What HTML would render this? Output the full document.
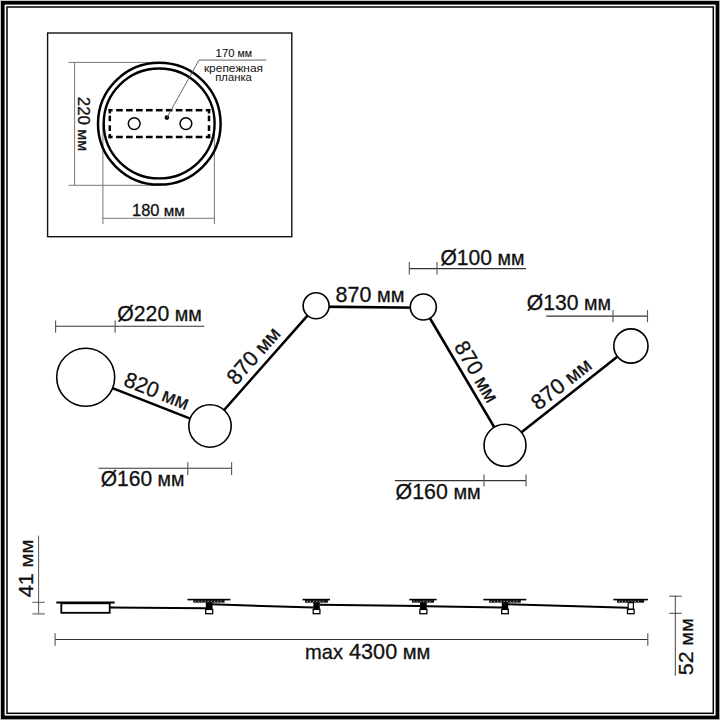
<!DOCTYPE html>
<html><head><meta charset="utf-8"><style>html,body{margin:0;padding:0;background:#fff}svg{display:block}</style></head>
<body><svg width="720" height="720" viewBox="0 0 720 720" font-family="Liberation Sans, sans-serif">
<rect width="720" height="720" fill="#fff"/>
<rect x="0.5" y="0.5" width="719" height="719" fill="none" stroke="#c8c8c8" stroke-width="1"/>
<rect x="2.8" y="2.8" width="714.6" height="714.6" fill="none" stroke="#000" stroke-width="3.6"/>
<rect x="7" y="7" width="706.3" height="706.3" fill="none" stroke="#000" stroke-width="1.5"/>
<rect x="47.6" y="33" width="244.2" height="203.7" fill="none" stroke="#111" stroke-width="1.4"/>
<path d="M68.7 62.4H160 M68.7 185.3H160 M74.6 62.4V185.3" stroke="#777" stroke-width="1" fill="none"/>
<path d="M102.9 123.5V224 M214.4 123.5V224 M102.9 218.3H214.4" stroke="#777" stroke-width="1" fill="none"/>
<ellipse cx="159.3" cy="123.7" rx="61.3" ry="60.9" fill="none" stroke="#000" stroke-width="2.5"/>
<ellipse cx="159.15" cy="123.45" rx="55.45" ry="54.95" fill="none" stroke="#000" stroke-width="2.4"/>
<g fill="#000"><rect x="108.55" y="108.95" width="4.05" height="2.5"/><rect x="108.55" y="135.75" width="4.05" height="2.5"/><rect x="116.10" y="108.95" width="6.70" height="2.5"/><rect x="116.10" y="135.75" width="6.70" height="2.5"/><rect x="126.05" y="108.95" width="6.70" height="2.5"/><rect x="126.05" y="135.75" width="6.70" height="2.5"/><rect x="136.00" y="108.95" width="6.70" height="2.5"/><rect x="136.00" y="135.75" width="6.70" height="2.5"/><rect x="145.95" y="108.95" width="6.70" height="2.5"/><rect x="145.95" y="135.75" width="6.70" height="2.5"/><rect x="155.90" y="108.95" width="6.70" height="2.5"/><rect x="155.90" y="135.75" width="6.70" height="2.5"/><rect x="165.85" y="108.95" width="6.70" height="2.5"/><rect x="165.85" y="135.75" width="6.70" height="2.5"/><rect x="175.80" y="108.95" width="6.70" height="2.5"/><rect x="175.80" y="135.75" width="6.70" height="2.5"/><rect x="185.75" y="108.95" width="6.70" height="2.5"/><rect x="185.75" y="135.75" width="6.70" height="2.5"/><rect x="195.70" y="108.95" width="6.70" height="2.5"/><rect x="195.70" y="135.75" width="6.70" height="2.5"/><rect x="205.80" y="108.95" width="4.45" height="2.5"/><rect x="205.80" y="135.75" width="4.45" height="2.5"/><rect x="108.55" y="108.95" width="2.5" height="4.55"/><rect x="207.75" y="108.95" width="2.5" height="4.55"/><rect x="108.55" y="115.60" width="2.5" height="5.60"/><rect x="207.75" y="115.60" width="2.5" height="5.60"/><rect x="108.55" y="125.30" width="2.5" height="5.60"/><rect x="207.75" y="125.30" width="2.5" height="5.60"/><rect x="108.55" y="134.00" width="2.5" height="4.25"/><rect x="207.75" y="134.00" width="2.5" height="4.25"/></g>
<circle cx="134.2" cy="123.6" r="5.9" fill="none" stroke="#000" stroke-width="1.5"/>
<circle cx="185.9" cy="123.6" r="5.9" fill="none" stroke="#000" stroke-width="1.5"/>
<circle cx="166.9" cy="117.6" r="2.3" fill="#000"/>
<path d="M166.9 117.6L199 60.1H266.3" stroke="#555" stroke-width="0.9" fill="none"/>
<text x="132" y="215.8" font-size="16.1" textLength="52.7" lengthAdjust="spacingAndGlyphs" stroke="#111" stroke-width="0.3" fill="#111" text-anchor="start">180<tspan font-size="14.97"> мм</tspan></text>
<text transform="translate(77.60 96.80) rotate(90.00)" x="0" y="0" font-size="15.6" textLength="54.2" lengthAdjust="spacingAndGlyphs" stroke="#111" stroke-width="0.3" fill="#111" text-anchor="start">220<tspan font-size="14.51"> мм</tspan></text>
<text x="215.6" y="56.9" font-size="11.5" textLength="36.3" lengthAdjust="spacingAndGlyphs" stroke="#111" stroke-width="0.1" fill="#111" text-anchor="start">170<tspan font-size="10.70"> мм</tspan></text>
<text x="203.9" y="72.4" font-size="11.8" textLength="59.2" lengthAdjust="spacingAndGlyphs" fill="#111" text-anchor="start">крепежная</text>
<text x="215.2" y="80.9" font-size="11.8" textLength="36.7" lengthAdjust="spacingAndGlyphs" fill="#111" text-anchor="start">планка</text>
<path d="M85.7 377.6L210 426.4M210 426L316.1 305.8M316.1 306.6L423.3 307.7M423.3 307L505 445.3M505 445.3L630.9 346" fill="none" stroke="#000" stroke-width="2.6"/>
<circle cx="85.7" cy="377.2" r="29" fill="#fff" stroke="#000" stroke-width="1.6"/>
<circle cx="210" cy="426" r="21.2" fill="#fff" stroke="#000" stroke-width="1.6"/>
<circle cx="316.1" cy="305.8" r="13" fill="#fff" stroke="#000" stroke-width="1.6"/>
<circle cx="423.3" cy="307" r="13" fill="#fff" stroke="#000" stroke-width="1.6"/>
<circle cx="505" cy="445.3" r="21" fill="#fff" stroke="#000" stroke-width="1.6"/>
<circle cx="630.9" cy="346" r="17.1" fill="#fff" stroke="#000" stroke-width="1.6"/>
<path d="M55.6 326.2H204.4" stroke="#333" stroke-width="1.05" fill="none"/>
<path d=" M55.6 320.5V332.8 M115.1 320.5V332.8" stroke="#5a5a5a" stroke-width="1.15" fill="none"/>
<path d="M409.3 268.6H526" stroke="#333" stroke-width="1.05" fill="none"/>
<path d=" M409.3 262V274.6 M437 262V274.6" stroke="#5a5a5a" stroke-width="1.15" fill="none"/>
<path d="M546.2 316.1H647.7" stroke="#333" stroke-width="1.05" fill="none"/>
<path d=" M613 309.9V322.3 M647.5 309.9V322.3" stroke="#5a5a5a" stroke-width="1.15" fill="none"/>
<path d="M98.4 468.3H231.6" stroke="#333" stroke-width="1.05" fill="none"/>
<path d=" M187.8 462.3V475 M231.6 462.3V475" stroke="#5a5a5a" stroke-width="1.15" fill="none"/>
<path d="M394.9 480.6H526" stroke="#333" stroke-width="1.05" fill="none"/>
<path d=" M484 474.6V486.6 M526 474.6V486.6" stroke="#5a5a5a" stroke-width="1.15" fill="none"/>
<text x="117.3" y="320.7" font-size="21.6" textLength="84.5" lengthAdjust="spacingAndGlyphs" stroke="#111" stroke-width="0.3" fill="#111" text-anchor="start">Ø220<tspan font-size="20.09"> мм</tspan></text>
<text x="440.4" y="265.3" font-size="21.6" textLength="84" lengthAdjust="spacingAndGlyphs" stroke="#111" stroke-width="0.3" fill="#111" text-anchor="start">Ø100<tspan font-size="20.09"> мм</tspan></text>
<text x="526.8" y="310.3" font-size="21.6" textLength="84.2" lengthAdjust="spacingAndGlyphs" stroke="#111" stroke-width="0.3" fill="#111" text-anchor="start">Ø130<tspan font-size="20.09"> мм</tspan></text>
<text x="100.7" y="486.1" font-size="21.6" textLength="83.7" lengthAdjust="spacingAndGlyphs" stroke="#111" stroke-width="0.3" fill="#111" text-anchor="start">Ø160<tspan font-size="20.09"> мм</tspan></text>
<text x="395.6" y="499.4" font-size="21.6" textLength="85.1" lengthAdjust="spacingAndGlyphs" stroke="#111" stroke-width="0.3" fill="#111" text-anchor="start">Ø160<tspan font-size="20.09"> мм</tspan></text>
<text x="335.6" y="301.6" font-size="21.6" textLength="68.8" lengthAdjust="spacingAndGlyphs" stroke="#111" stroke-width="0.3" fill="#111" text-anchor="start">870<tspan font-size="20.09"> мм</tspan></text>
<text transform="translate(122.48 385.30) rotate(21.43)" x="0" y="0" font-size="21.6" textLength="68" lengthAdjust="spacingAndGlyphs" stroke="#111" stroke-width="0.3" fill="#111" text-anchor="start">820<tspan font-size="20.09"> мм</tspan></text>
<text transform="translate(236.19 385.90) rotate(-48.57)" x="0" y="0" font-size="21.6" textLength="68.4" lengthAdjust="spacingAndGlyphs" stroke="#111" stroke-width="0.3" fill="#111" text-anchor="start">870<tspan font-size="20.09"> мм</tspan></text>
<text transform="translate(453.59 346.48) rotate(59.43)" x="0" y="0" font-size="21.6" textLength="67" lengthAdjust="spacingAndGlyphs" stroke="#111" stroke-width="0.3" fill="#111" text-anchor="start">870<tspan font-size="20.09"> мм</tspan></text>
<text transform="translate(538.18 410.98) rotate(-38.26)" x="0" y="0" font-size="21.6" textLength="70" lengthAdjust="spacingAndGlyphs" stroke="#111" stroke-width="0.3" fill="#111" text-anchor="start">870<tspan font-size="20.09"> мм</tspan></text>
<path d="M38.6 535.6V615 M32.3 602.3H44.8" stroke="#555" stroke-width="1" fill="none"/>
<path d="M32.3 613.8H44.8" stroke="#999" stroke-width="1.8" fill="none"/>
<text transform="translate(33.00 597.30) rotate(-90.00)" x="0" y="0" font-size="20.2" textLength="57.8" lengthAdjust="spacingAndGlyphs" stroke="#111" stroke-width="0.3" fill="#111" text-anchor="start">41<tspan font-size="18.79"> мм</tspan></text>
<path d="M675.3 595.8V675.8 M669.2 596.2H681.7 M669.2 613.3H681.7" stroke="#444" stroke-width="1" fill="none"/>
<text transform="translate(693.30 675.20) rotate(-90.00)" x="0" y="0" font-size="20.2" textLength="56.8" lengthAdjust="spacingAndGlyphs" stroke="#111" stroke-width="0.3" fill="#111" text-anchor="start">52<tspan font-size="18.79"> мм</tspan></text>
<path d="M55.1 639.4H647.8" stroke="#333" stroke-width="1.05" fill="none"/>
<path d=" M55.1 633.3V645.8 M647.8 633.3V645.8" stroke="#5a5a5a" stroke-width="1.15" fill="none"/>
<text x="305.1" y="658.8" font-size="21.6" textLength="125.3" lengthAdjust="spacingAndGlyphs" stroke="#111" stroke-width="0.3" fill="#111" text-anchor="start"><tspan font-size="20.09">max</tspan> 4300<tspan font-size="20.09"> мм</tspan></text>
<path d="M56.3 602.5H114.7" stroke="#000" stroke-width="1.8"/>
<rect x="61.3" y="603.3" width="48.4" height="9.5" fill="#fff" stroke="#000" stroke-width="1.8"/>
<path d="M109.7 607.4L206 608.2 M212 604.3L313.5 607.6 M319.6 604.7L420 606 M426.6 606.2L502 607.6 M507.9 604.3L628 607.7" stroke="#000" stroke-width="2" fill="none"/>
<rect x="187.5" y="598.8" width="42.900000000000006" height="1.6" fill="#000"/>
<rect x="193.3" y="600.2" width="31.299999999999983" height="2.4" fill="#000"/>
<rect x="194.8" y="601.1" width="1.3" height="0.6" fill="#eee"/><rect x="198.0" y="601.1" width="1.3" height="0.6" fill="#eee"/><rect x="201.2" y="601.1" width="1.3" height="0.6" fill="#eee"/><rect x="204.4" y="601.1" width="1.3" height="0.6" fill="#eee"/><rect x="207.6" y="601.1" width="1.3" height="0.6" fill="#eee"/><rect x="210.8" y="601.1" width="1.3" height="0.6" fill="#eee"/><rect x="214.0" y="601.1" width="1.3" height="0.6" fill="#eee"/><rect x="217.2" y="601.1" width="1.3" height="0.6" fill="#eee"/><rect x="220.4" y="601.1" width="1.3" height="0.6" fill="#eee"/>
<rect x="205.8" y="602.3" width="6.799999999999983" height="7.2" fill="#000"/>
<rect x="205.70000000000002" y="609.4" width="6.999999999999983" height="4.3" fill="#fff" stroke="#000" stroke-width="1.3"/>
<rect x="302.5" y="598.8" width="27.5" height="1.6" fill="#000"/>
<rect x="305" y="600.2" width="22.899999999999977" height="2.4" fill="#000"/>
<rect x="306.5" y="601.1" width="1.3" height="0.6" fill="#eee"/><rect x="309.7" y="601.1" width="1.3" height="0.6" fill="#eee"/><rect x="312.9" y="601.1" width="1.3" height="0.6" fill="#eee"/><rect x="316.1" y="601.1" width="1.3" height="0.6" fill="#eee"/><rect x="319.3" y="601.1" width="1.3" height="0.6" fill="#eee"/><rect x="322.5" y="601.1" width="1.3" height="0.6" fill="#eee"/>
<rect x="313.3" y="602.3" width="6.5" height="7.2" fill="#000"/>
<rect x="313.2" y="609.4" width="6.7" height="4.3" fill="#fff" stroke="#000" stroke-width="1.3"/>
<rect x="409.3" y="598.8" width="27.399999999999977" height="1.6" fill="#000"/>
<rect x="412" y="600.2" width="22" height="2.4" fill="#000"/>
<rect x="413.5" y="601.1" width="1.3" height="0.6" fill="#eee"/><rect x="416.7" y="601.1" width="1.3" height="0.6" fill="#eee"/><rect x="419.9" y="601.1" width="1.3" height="0.6" fill="#eee"/><rect x="423.1" y="601.1" width="1.3" height="0.6" fill="#eee"/><rect x="426.3" y="601.1" width="1.3" height="0.6" fill="#eee"/><rect x="429.5" y="601.1" width="1.3" height="0.6" fill="#eee"/>
<rect x="420" y="602.3" width="6.800000000000011" height="7.2" fill="#000"/>
<rect x="419.9" y="609.4" width="7.0000000000000115" height="4.3" fill="#fff" stroke="#000" stroke-width="1.3"/>
<rect x="483.3" y="598.8" width="42.99999999999994" height="1.6" fill="#000"/>
<rect x="489.2" y="600.2" width="31.599999999999966" height="2.4" fill="#000"/>
<rect x="490.7" y="601.1" width="1.3" height="0.6" fill="#eee"/><rect x="493.9" y="601.1" width="1.3" height="0.6" fill="#eee"/><rect x="497.1" y="601.1" width="1.3" height="0.6" fill="#eee"/><rect x="500.3" y="601.1" width="1.3" height="0.6" fill="#eee"/><rect x="503.5" y="601.1" width="1.3" height="0.6" fill="#eee"/><rect x="506.7" y="601.1" width="1.3" height="0.6" fill="#eee"/><rect x="509.9" y="601.1" width="1.3" height="0.6" fill="#eee"/><rect x="513.1" y="601.1" width="1.3" height="0.6" fill="#eee"/><rect x="516.3" y="601.1" width="1.3" height="0.6" fill="#eee"/>
<rect x="501.8" y="602.3" width="6.399999999999977" height="7.2" fill="#000"/>
<rect x="501.7" y="609.4" width="6.599999999999977" height="4.3" fill="#fff" stroke="#000" stroke-width="1.3"/>
<rect x="613.3" y="598.8" width="34.60000000000002" height="1.6" fill="#000"/>
<rect x="617" y="600.2" width="27.200000000000045" height="2.4" fill="#000"/>
<rect x="618.5" y="601.1" width="1.3" height="0.6" fill="#eee"/><rect x="621.7" y="601.1" width="1.3" height="0.6" fill="#eee"/><rect x="624.9" y="601.1" width="1.3" height="0.6" fill="#eee"/><rect x="628.1" y="601.1" width="1.3" height="0.6" fill="#eee"/><rect x="631.3" y="601.1" width="1.3" height="0.6" fill="#eee"/><rect x="634.5" y="601.1" width="1.3" height="0.6" fill="#eee"/><rect x="637.7" y="601.1" width="1.3" height="0.6" fill="#eee"/>
<rect x="628.2" y="602.6" width="5.199999999999977" height="6.6" fill="#fff" stroke="#000" stroke-width="1.2"/>
<rect x="627.5" y="609.4" width="6.599999999999977" height="4.3" fill="#fff" stroke="#000" stroke-width="1.3"/>
</svg></body></html>
